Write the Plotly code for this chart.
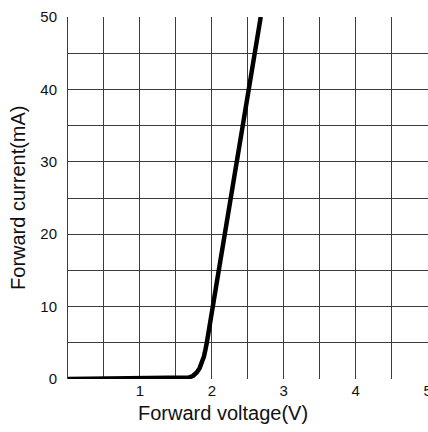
import plotly.graph_objects as go

voltage = [0.0, 0.5, 1.0, 1.5, 1.6, 1.68, 1.74, 1.79, 1.83, 1.86, 1.89, 1.91, 1.93, 2.68]
current = [0.0, 0.03, 0.06, 0.09, 0.1, 0.2, 0.45, 0.9, 1.5, 2.2, 3.1, 4.0, 5.0, 50.0]

x_ticks = [1, 2, 3, 4, 5]
y_ticks = [0, 10, 20, 30, 40, 50]

fig = go.Figure()
fig.add_trace(go.Scatter(x=voltage, y=current, mode="lines",
                         line=dict(color="black", width=4.5), cliponaxis=False,
                         showlegend=False, hoverinfo="skip"))

grid = "#3c3c3c"
fig.update_layout(
    width=428, height=432,
    margin=dict(l=68, r=0, t=17, b=53),
    paper_bgcolor="white", plot_bgcolor="white",
    font=dict(family="Liberation Sans, Arial, sans-serif", color="#111", size=15),
    xaxis=dict(range=[0, 5.006], tickvals=x_ticks, ticktext=[str(t) for t in x_ticks],
               showgrid=True, gridcolor=grid, gridwidth=1, zeroline=False, automargin=False,
               showline=False, ticks="", ticklabelstandoff=1, ticklabeloverflow="allow",
               minor=dict(dtick=0.5, showgrid=True, gridcolor=grid, gridwidth=1)),
    yaxis=dict(range=[0, 50], tickvals=y_ticks, showgrid=True, gridcolor=grid, gridwidth=1,
               zeroline=False, showline=True, linecolor=grid, linewidth=1, ticks="",
               ticklabelstandoff=7, automargin=False,
               minor=dict(dtick=5, showgrid=True, gridcolor=grid, gridwidth=1)),
    annotations=[
        dict(text="Forward voltage(V)", x=0.43, y=-0.094, xref="paper", yref="paper",
             xanchor="center", yanchor="middle", showarrow=False, font=dict(size=20)),
        dict(text="Forward current(mA)", x=-0.139, y=0.5, xref="paper", yref="paper",
             xanchor="center", yanchor="middle", showarrow=False, textangle=-90,
             font=dict(size=20)),
    ],
)

fig.write_html("out.html", config={"displayModeBar": False},
               post_script="document.body.style.margin='0';document.body.style.overflow='hidden';")
